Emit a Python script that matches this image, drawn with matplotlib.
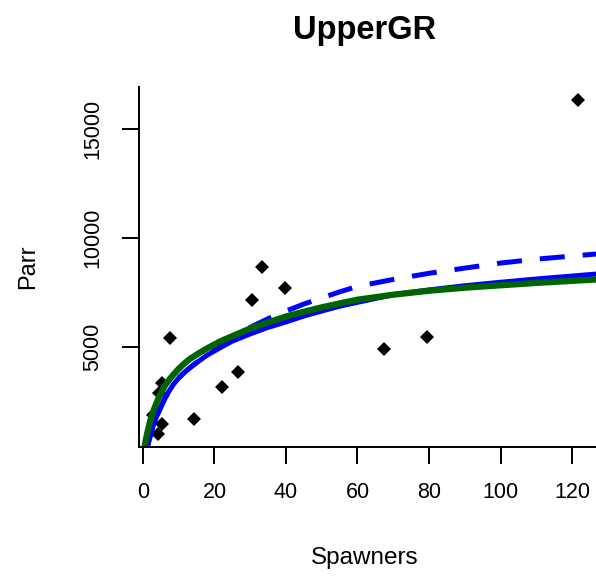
import numpy as np
import matplotlib
matplotlib.use("Agg")
import matplotlib.pyplot as plt

plt.rcParams['font.family'] = ['Liberation Sans', 'DejaVu Sans']

# observed spawner / parr pairs
spawners = [2.9, 4.3, 5.2, 4.4, 5.3, 7.5, 14.3, 22.1, 26.6, 30.5, 33.3, 39.7, 67.4, 79.4, 121.7]
parr = [1870, 1030, 1490, 2900, 3350, 5400, 1680, 3150, 3840, 7140, 8680, 7690, 4890, 5440, 16350]

# fitted curves
green_x = [0, 1, 2, 3, 4, 5, 6.2, 7.5, 8.5, 10, 11.5, 13.1, 15.5, 17.8, 21.5, 25, 30,
           35, 40, 45, 50, 55, 60, 70, 80, 90, 100, 110, 127]
green_y = [0, 900, 1600, 2100, 2520, 2870, 3240, 3530, 3730, 4000, 4230, 4450, 4700,
           4925, 5250, 5500, 5850, 6130, 6400, 6620, 6820, 7000, 7170, 7400, 7580,
           7720, 7830, 7940, 8100]

blue_x = [0.8, 1.5, 2.9, 3.8, 4.75, 6, 7.2, 8.5, 10, 11.5, 13.1, 15.5, 17.8, 21.5, 25,
          30, 35, 40, 45, 50, 55, 60, 70, 80, 90, 100, 110, 127]
blue_y = [0, 600, 1400, 1800, 2150, 2600, 2950, 3280, 3580, 3820, 4040, 4340, 4610,
          4960, 5270, 5600, 5900, 6150, 6420, 6650, 6870, 7050, 7400, 7620, 7810,
          7970, 8120, 8350]

dash_x = [0.8, 1.5, 2.9, 3.8, 4.75, 6, 7.2, 8.5, 10, 11.5, 13.1, 15.5, 17.8, 21.5, 25,
          30, 35, 40, 45, 50, 55, 60, 70, 80, 90, 100, 110, 127]
dash_y = [0, 600, 1400, 1800, 2150, 2600, 2950, 3280, 3580, 3820, 4050, 4360, 4660,
          5050, 5420, 5900, 6300, 6650, 6970, 7250, 7530, 7780, 8100, 8380, 8620,
          8850, 9030, 9270]

x_ticks = [0, 20, 40, 60, 80, 100, 120]
y_ticks = [5000, 10000, 15000]

W, H = 596, 577
fig = plt.figure(figsize=(W / 100, H / 100), dpi=100)
ax = fig.add_axes([139 / W, (H - 447) / H, (596 - 139) / W, (447 - 87) / H])

ax.plot(spawners, parr, linestyle='none', marker='D', markersize=7,
        color='black', markeredgewidth=0)
ax.plot(dash_x, dash_y, color='blue', lw=3.6, dashes=(5, 3.6))
ax.plot(blue_x, blue_y, color='blue', lw=3.6)
ax.plot(green_x, green_y, color='#006400', lw=4.5)

ax.set_xlim(-1.1, 126.7)
ax.set_ylim(413, 16927)
ax.set_xticks(x_ticks)
ax.set_yticks(y_ticks)
ax.set_yticklabels([str(v) for v in y_ticks], rotation=90, va='center')

for s in ['top', 'right']:
    ax.spines[s].set_visible(False)
for s in ['left', 'bottom']:
    ax.spines[s].set_linewidth(1.4)
ax.tick_params(axis='both', direction='out', length=12, width=1.4,
               labelsize=15.5, colors='black')
ax.tick_params(axis='x', pad=13)
ax.tick_params(axis='y', pad=14)

fig.text(365 / W, 1 - 30 / H, 'UpperGR', ha='center', va='center',
         fontsize=23.5, fontweight='bold')
fig.text(365 / W, 1 - 558 / H, 'Spawners', ha='center', va='center', fontsize=17.5)
fig.text(28 / W, 1 - 267 / H, 'Parr', ha='center', va='center', fontsize=17, rotation=90)

fig.savefig('out.png', dpi=100)
